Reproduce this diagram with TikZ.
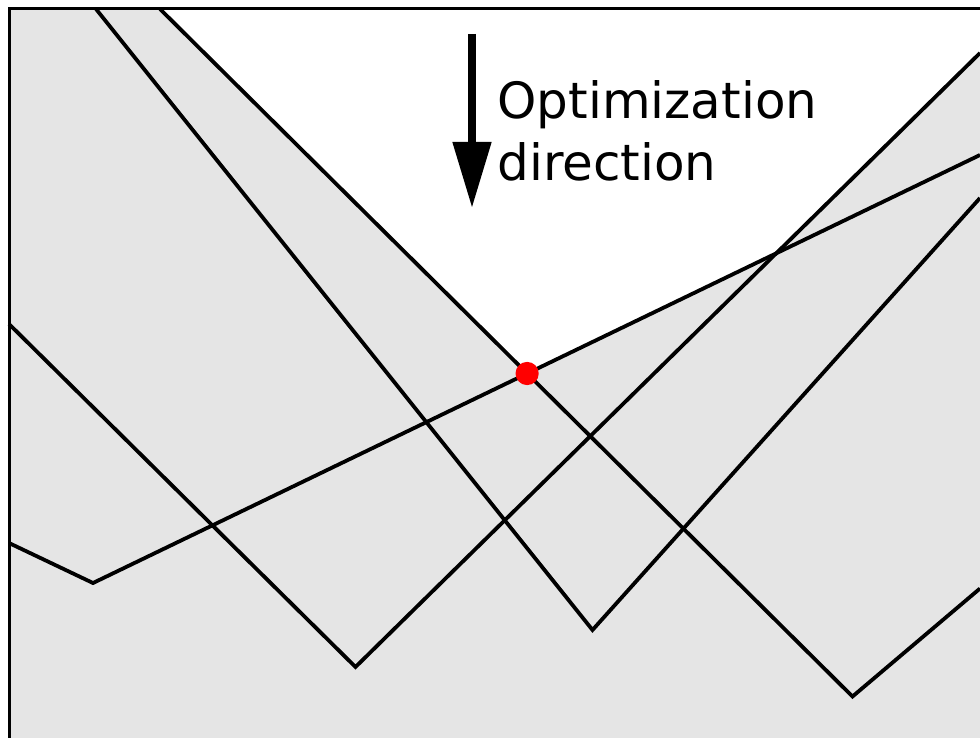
\documentclass[tikz,border=0pt]{standalone}
\usepackage{fontspec}
\setmainfont{DejaVu Sans}
\usetikzlibrary{arrows.meta}

\begin{document}
\begin{tikzpicture}[
  x=0.5pt,y=-0.5pt,
  boundary/.style={line width=1.9pt,line join=miter},
  region/.style={fill=black!10},
  dirlabel/.style={font=\fontsize{25}{30.75}\selectfont,align=left,inner sep=0pt},
  >={Triangle[length=33pt,width=18.5pt]}
]
\useasboundingbox (0,0) rectangle (980,738);
\clip (0,0) rectangle (980,738);
% ---------------- corners of the piecewise lines ----------------
\coordinate (tl) at (9,9); \coordinate (br) at (1000,760);
\coordinate (a0) at (9,543);  \coordinate (a1) at (93,583);      \coordinate (a2) at (980,155);
\coordinate (b0) at (9,324);  \coordinate (b1) at (355.5,667);   \coordinate (b2) at (980,53);
\coordinate (c0) at (96,9);   \coordinate (c1) at (592.5,630);   \coordinate (c2) at (980,198);
\coordinate (d0) at (160,9);  \coordinate (d1) at (852.5,696.5); \coordinate (d2) at (980,588.5);
\coordinate (opt) at (intersection of a1--a2 and d0--d1);
\coordinate (ab) at (intersection of a1--a2 and b1--b2);
% ---------------- feasible region ----------------
\fill[region] (tl) rectangle (br);
\fill[white] (d0) -- (opt) -- (ab) -- (b2) -- (980,9) -- cycle;
\draw[boundary] (a0) -- (a1) -- (a2);
\draw[boundary] (b0) -- (b1) -- (b2);
\draw[boundary] (c0) -- (c1) -- (c2);
\draw[boundary] (d0) -- (d1) -- (d2);
\draw[line width=1.5pt] (tl) rectangle (br);
\fill[red] (opt) circle (5.8pt);
% ---------------- direction ----------------
\coordinate (arrtop) at (472,34); \coordinate (arrtip) at (472,208);
\draw[->,line width=4pt] (arrtop) -- (arrtip);
\node[dirlabel,anchor=base west] (dirtext) at (497,180) {Optimization\\direction};
\end{tikzpicture}
\end{document}
